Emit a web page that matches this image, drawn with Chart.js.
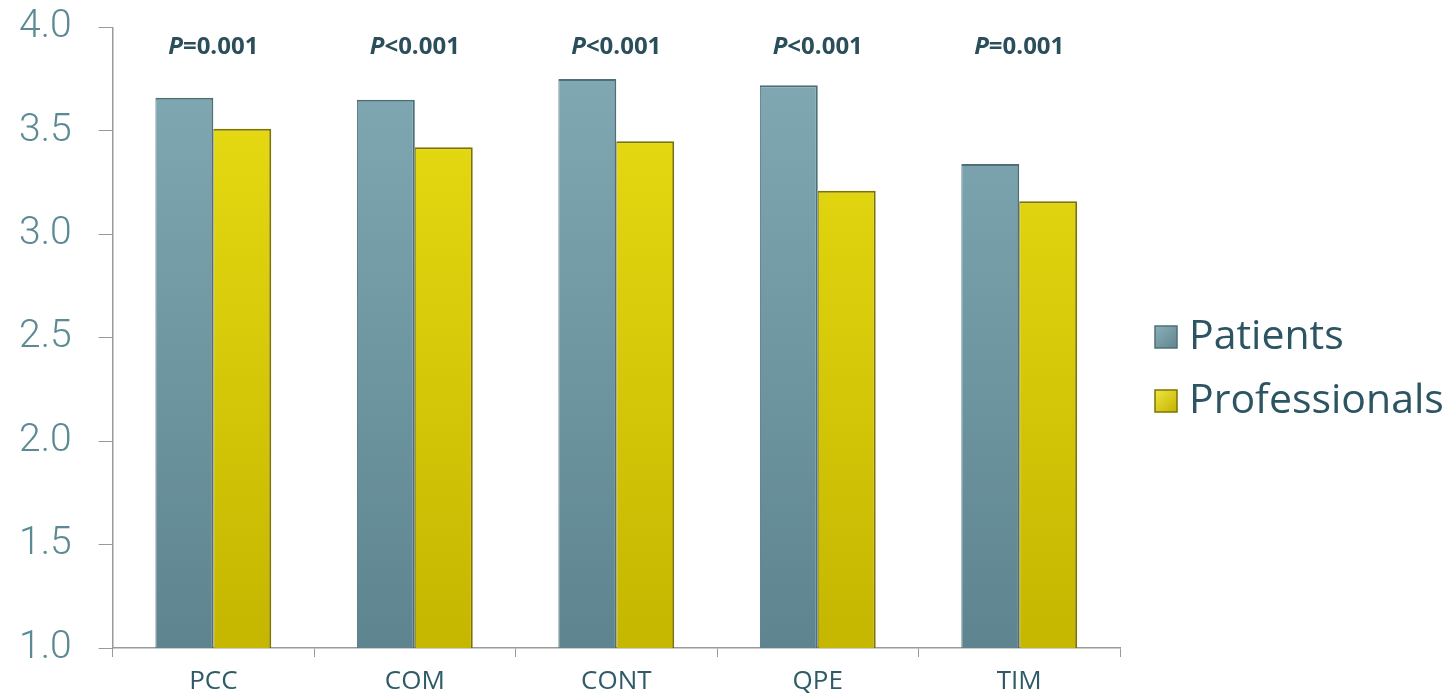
<!DOCTYPE html>
<html>
<head>
<meta charset="utf-8">
<script src="https://cdn.jsdelivr.net/npm/chart.js@4"></script>
<style>
  html, body { margin: 0; padding: 0; background: #ffffff; }
  #wrap { width: 1456px; height: 695px; }
</style>
</head>
<body>
<div id="wrap"><canvas id="chart" width="1456" height="695"></canvas></div>
<script>
// Data
const categories = ["PCC", "COM", "CONT", "QPE", "TIM"];
const patients = [3.66, 3.65, 3.75, 3.72, 3.34];
const professionals = [3.51, 3.42, 3.45, 3.21, 3.16];
const pSigns = ["=", "<", "<", "<", "="];
const pValues = ["0.001", "0.001", "0.001", "0.001", "0.001"];
const yTicks = [1.0, 1.5, 2.0, 2.5, 3.0, 3.5, 4.0];
const seriesNames = ["Patients", "Professionals"];

function barGradient(ctx, top, bottom) {
  const chart = ctx.chart;
  const area = chart.chartArea;
  if (!area) return top;
  const g = chart.ctx.createLinearGradient(0, area.top, 0, area.bottom);
  g.addColorStop(0, top);
  g.addColorStop(1, bottom);
  return g;
}

// P-value labels above each group
const pLabelPlugin = {
  id: "pLabels",
  afterDatasetsDraw(chart) {
    const c = chart.ctx;
    const xScale = chart.scales.x;
    const y = chart.chartArea.top + 20;
    c.save();
    c.fillStyle = "#2b4e5b";
    c.textBaseline = "middle";
    c.textAlign = "left";
    categories.forEach(function (cat, i) {
      const cx = xScale.getPixelForValue(i);
      const italic = "italic bold 24px 'Open Sans'";
      const normal = "bold 24px 'Open Sans'";
      const rest = pSigns[i] + pValues[i];
      c.font = italic;
      const w1 = c.measureText("P").width;
      c.font = normal;
      const w2 = c.measureText(rest).width;
      const x = cx - (w1 + w2) / 2;
      c.font = italic;
      c.fillText("P", x, y);
      c.font = normal;
      c.fillText(rest, x + w1, y);
    });
    c.restore();
  },
};

// Legend drawn to the right of the plot
const sideLegendPlugin = {
  id: "sideLegend",
  afterDraw(chart) {
    const c = chart.ctx;
    const fillTop = ["#8cb0b9", "#f0e640"];
    const fillBot = ["#5f858f", "#c2b300"];
    const strokes = ["#4f6f77", "#7d7400"];
    const left = chart.chartArea.right + 35;
    const rows = [337, 401];
    c.save();
    seriesNames.forEach(function (name, i) {
      const cy = rows[i];
      const g = c.createLinearGradient(left, cy - 11, left + 22, cy + 11);
      g.addColorStop(0, fillTop[i]);
      g.addColorStop(1, fillBot[i]);
      c.fillStyle = g;
      c.fillRect(left, cy - 11, 22, 22);
      c.strokeStyle = strokes[i];
      c.lineWidth = 1.5;
      c.strokeRect(left, cy - 11, 22, 22);
      c.fillStyle = "#2c5563";
      c.font = "41px 'Open Sans'";
      c.textBaseline = "middle";
      c.textAlign = "left";
      c.fillText(name, left + 34, cy);
    });
    c.restore();
  },
};

const ctx = document.getElementById("chart").getContext("2d");
new Chart(ctx, {
  type: "bar",
  data: {
    labels: categories,
    datasets: [
      {
        label: seriesNames[0],
        data: patients,
        backgroundColor: (c) => barGradient(c, "#82abb5", "#5e858f"),
        borderColor: "#4f6f77",
        borderWidth: { top: 2, right: 2, left: 1, bottom: 0 },
        borderSkipped: false,
        categoryPercentage: 0.575,
        barPercentage: 1.0,
      },
      {
        label: seriesNames[1],
        data: professionals,
        backgroundColor: (c) => barGradient(c, "#e9df14", "#c5b600"),
        borderColor: "#7d7400",
        borderWidth: { top: 2, right: 2, left: 1, bottom: 0 },
        borderSkipped: false,
        categoryPercentage: 0.575,
        barPercentage: 1.0,
      },
    ],
  },
  options: {
    responsive: false,
    animation: false,
    layout: { padding: { top: 25, left: -8, right: 336, bottom: -12 } },
    plugins: {
      legend: { display: false },
      tooltip: { enabled: false },
    },
    scales: {
      x: {
        grid: {
          offset: true,
          drawOnChartArea: false,
          drawTicks: true,
          tickLength: 9,
          color: "#9a9a9a",
        },
        border: { color: "#9a9a9a", width: 1.5 },
        ticks: {
          color: "#2f5a68",
          font: { family: "'Open Sans'", size: 26, lineHeight: 1 },
          padding: 12,
        },
      },
      y: {
        min: 1,
        max: 4,
        afterBuildTicks: function (axis) {
          axis.ticks = yTicks.map((v) => ({ value: v }));
        },
        grid: {
          drawOnChartArea: false,
          drawTicks: true,
          tickLength: 14,
          color: "#9a9a9a",
        },
        border: { color: "#9a9a9a", width: 1.5 },
        ticks: {
          color: "#5b8a95",
          padding: 27,
          font: { family: "Roboto", size: 39, weight: "300", lineHeight: 0.02 },
          callback: (v) => Number(v).toFixed(1),
        },
      },
    },
  },
  plugins: [pLabelPlugin, sideLegendPlugin],
});
</script>
</body>
</html>
